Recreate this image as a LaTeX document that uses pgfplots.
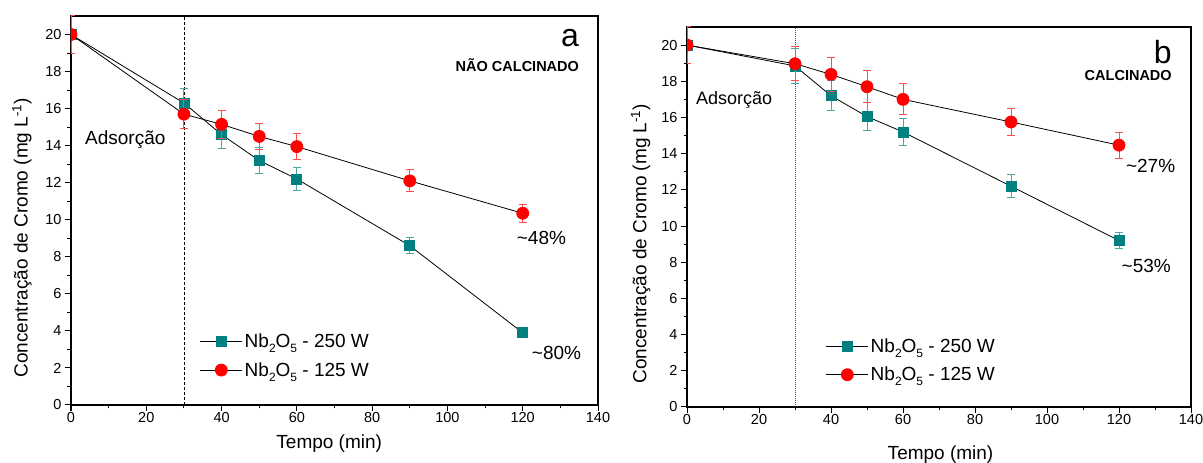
\documentclass[border=0pt]{standalone}
\usepackage{pgfplots}
\pgfplotsset{compat=1.18}
\usepackage{fontspec}
\setmainfont{Liberation Sans}
\definecolor{tealA}{RGB}{0,128,128}
\definecolor{redA}{RGB}{255,0,0}
\newcommand{\sub}[1]{\raisebox{-0.5ex}{\fontsize{12}{12}\selectfont #1}}

\pgfplotsset{
  panel/.style={
    scale only axis,
    xmin=0, xmax=140, ymin=0, ymax=21,
    xtick={0,20,...,140}, minor x tick num=1,
    ytick={0,2,...,20}, minor y tick num=1,
    tick align=outside, tick pos=left,
    major tick length=6pt, minor tick length=3.5pt,
    every tick/.style={black, line width=1pt},
    axis line style={line width=1.2pt},
    ticklabel style={font=\fontsize{14.5}{16}\selectfont},
    xticklabel style={yshift=2pt},
    /pgf/number format/assume math mode=true,
    clip marker paths=true,
    xlabel={Tempo (min)},
    ylabel={Concentração de Cromo (mg L\textsuperscript{-1})},
    xlabel style={font=\fontsize{19}{22}\selectfont, anchor=center},
    ylabel style={font=\fontsize{19}{22}\selectfont, anchor=center},
    legend cell align=left,
    legend image code/.code={
      \draw[mark repeat=2,mark phase=2,#1] plot coordinates {(0pt,0pt) (21pt,0pt) (42pt,0pt)};
    },
  },
  s250/.style={black, line width=0.8pt, mark=square*, mark size=5pt,
    mark options={tealA, solid},
    error bars/.cd, y dir=both, y explicit,
    error bar style={tealA!70, line width=1pt},
    error mark options={rotate=90, tealA!70, mark size=4pt, line width=1pt}},
  s125/.style={black, line width=0.8pt, mark=*, mark size=6pt,
    mark options={redA, solid},
    error bars/.cd, y dir=both, y explicit,
    error bar style={redA!70, line width=1pt},
    error mark options={rotate=90, redA!70, mark size=4pt, line width=1pt}},
}

\begin{document}
\begin{tikzpicture}[x=1pt,y=1pt]
\useasboundingbox (0,0) rectangle (1203,463);

% ---------- panel a ----------
\begin{axis}[panel, at={(71pt,58pt)}, anchor=south west,
  width=527pt, height=389pt,
  xlabel style={at={(axis description cs:0.49,-0.100)}},
  ylabel style={at={(axis description cs:-0.093,0.43)}},
  legend style={at={(axis cs:33.4,4.05)}, anchor=north west, draw=none, fill=none,
    font=\fontsize{19}{22}\selectfont, row sep=9pt},
]
\addplot[black, densely dashed, line width=0.8pt, forget plot] coordinates {(30,0) (30,21)};
\addplot[s250] coordinates {
  (0,20) +- (0,0)
  (30,16.3) +- (0,0.8)
  (40,14.6) +- (0,0.77)
  (50,13.2) +- (0,0.68)
  (60,12.2) +- (0,0.6)
  (90,8.6) +- (0,0.42)
  (120,3.9) +- (0,0.1)
};
\addlegendentry{Nb\sub{2}O\sub{5} - 250 W}
\addplot[s125] coordinates {
  (0,20) +- (0,1.0)
  (30,15.7) +- (0,0.8)
  (40,15.15) +- (0,0.75)
  (50,14.5) +- (0,0.7)
  (60,13.95) +- (0,0.68)
  (90,12.1) +- (0,0.6)
  (120,10.35) +- (0,0.5)
};
\addlegendentry{Nb\sub{2}O\sub{5} - 125 W}
\node[anchor=base east, font=\fontsize{32}{34}\selectfont, inner sep=0pt] at (axis cs:135,19.37) {a};
\node[anchor=base east, font=\fontsize{14.5}{16}\selectfont\bfseries, inner sep=0pt] at (axis cs:135,18.02) {NÃO CALCINADO};
\node[anchor=base west, font=\fontsize{19}{22}\selectfont, inner sep=0pt] at (axis cs:3.7,14.07) {Adsorção};
\node[anchor=base west, font=\fontsize{19}{22}\selectfont, inner sep=0pt] at (axis cs:118.4,8.68) {\textasciitilde48\%};
\node[anchor=base west, font=\fontsize{19}{22}\selectfont, inner sep=0pt] at (axis cs:122.4,2.43) {\textasciitilde80\%};
\end{axis}

% ---------- panel b ----------
\begin{axis}[panel, at={(687pt,56pt)}, anchor=south west,
  width=504pt, height=380pt,
  xlabel style={at={(axis description cs:0.503,-0.126)}},
  ylabel style={at={(axis description cs:-0.092,0.43)}},
  legend style={at={(axis cs:37.7,4.0)}, anchor=north west, draw=none, fill=none,
    font=\fontsize{19}{22}\selectfont, row sep=9pt},
]
\addplot[black!70, densely dotted, line width=1pt, forget plot] coordinates {(30,0) (30,21)};
\addplot[s250] coordinates {
  (0,20) +- (0,0)
  (30,18.85) +- (0,0.95)
  (40,17.2) +- (0,0.84)
  (50,16.05) +- (0,0.77)
  (60,15.2) +- (0,0.77)
  (90,12.2) +- (0,0.63)
  (120,9.2) +- (0,0.46)
};
\addlegendentry{Nb\sub{2}O\sub{5} - 250 W}
\addplot[s125] coordinates {
  (0,20) +- (0,1.0)
  (30,18.97) +- (0,0.93)
  (40,18.38) +- (0,0.92)
  (50,17.7) +- (0,0.88)
  (60,17.0) +- (0,0.86)
  (90,15.75) +- (0,0.77)
  (120,14.47) +- (0,0.72)
};
\addlegendentry{Nb\sub{2}O\sub{5} - 125 W}
\node[anchor=base east, font=\fontsize{32}{34}\selectfont, inner sep=0pt] at (axis cs:134.7,18.96) {b};
\node[anchor=base east, font=\fontsize{14.5}{16}\selectfont\bfseries, inner sep=0pt] at (axis cs:134.7,18.04) {CALCINADO};
\node[anchor=base west, font=\fontsize{18}{21}\selectfont, inner sep=0pt] at (axis cs:2.5,16.71) {Adsorção};
\node[anchor=base west, font=\fontsize{19}{22}\selectfont, inner sep=0pt] at (axis cs:121.9,12.98) {\textasciitilde27\%};
\node[anchor=base west, font=\fontsize{19}{22}\selectfont, inner sep=0pt] at (axis cs:120.7,7.46) {\textasciitilde53\%};
\end{axis}
\end{tikzpicture}
\end{document}
